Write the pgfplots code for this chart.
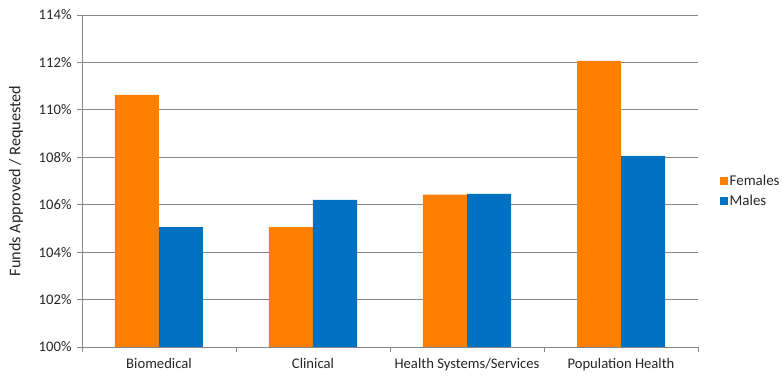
\documentclass[border=0pt]{standalone}
\usepackage{fontspec}
\setmainfont{Carlito}
\usepackage{pgfplots}
\pgfplotsset{compat=1.18}
\definecolor{forange}{RGB}{255,128,0}
\definecolor{mblue}{RGB}{0,112,192}
\definecolor{gridgray}{RGB}{134,134,134}
\begin{document}
\begin{tikzpicture}[x=1bp,y=1bp]
\useasboundingbox (-82bp,-37bp) rectangle (701bp,347bp);
\begin{axis}[
  at={(0,0)}, anchor=south west,
  scale only axis, width=616bp, height=332bp,
  xmin=-0.5, xmax=3.5, ymin=100, ymax=114,
  ybar=0pt, bar width=44bp,
  xtick={-0.5,0.5,1.5,2.5,3.5},
  x tick label as interval,
  xticklabels={Biomedical,Clinical,Health Systems/Services,Population Health},
  ytick={100,102,...,114},
  yticklabel={\pgfmathprintnumber{\tick}\%},
  /pgf/number format/assume math mode=true,
  ymajorgrids, grid style={gridgray, line width=0.9pt},
  axis line style={gridgray, line width=0.9pt},
  axis x line*=bottom, axis y line*=left,
  x axis line style={-}, y axis line style={-},
  tick style={gridgray, line width=0.9pt},
  tick align=outside,
  major tick length=5bp,
  every x tick/.style={gridgray},
  ticklabel style={font=\fontsize{14.7}{17}\selectfont, text=black!85},
  yticklabel style={xshift=-2bp},
  xticklabel style={yshift=-3bp},
  ylabel={Funds Approved / Requested},
  ylabel style={at={(axis description cs:-0.107,0.5)}, anchor=center, font=\fontsize{16.3}{19}\selectfont, text=black!85},
  legend cell align=left,
  legend style={at={(axis description cs:1.03,0.47)}, anchor=west, draw=none, fill=none,
    font=\fontsize{15}{17}\selectfont, text=black!85, row sep=4bp},
  legend image code/.code={\fill[#1] (0bp,-4bp) rectangle (8bp,4bp);},
]
\addplot[fill=forange, draw=none] coordinates {(0,110.63) (1,105.06) (2,106.43) (3,112.07)};
\addplot[fill=mblue, draw=none] coordinates {(0,105.06) (1,106.2) (2,106.46) (3,108.06)};
\legend{Females,Males}
\end{axis}
\end{tikzpicture}
\end{document}
